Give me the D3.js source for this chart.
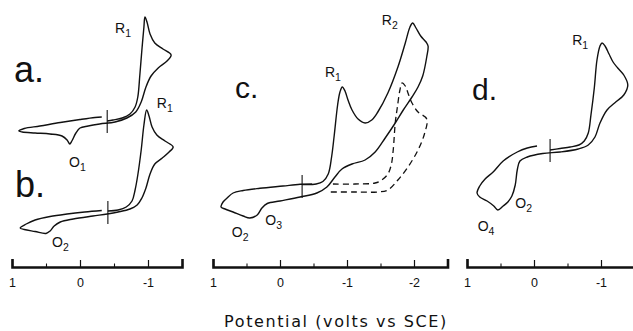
<!DOCTYPE html>
<html><head><meta charset="utf-8">
<script src="https://cdn.jsdelivr.net/npm/d3@7"></script>
<style>
html,body{margin:0;padding:0;background:#fff;}
svg{display:block;}
</style></head>
<body>
<svg id="chart" width="633" height="331"></svg>
<script>
// ---- data: potential E (V vs SCE), current i (arbitrary units) ----
const curveA = [[-0.40,0],[-0.485,0.1],[-0.62,0.3],[-0.735,0.7],[-0.81,1.4],[-0.85,2.4],[-0.88,4.6],[-0.91,7.1],[-0.94,9.4],[-0.955,10.4],[-0.985,9.9],[-1.03,8.7],[-1.10,7.8],[-1.22,7.2],[-1.34,6.6],[-1.28,6.0],[-1.15,5.3],[-1.045,4.5],[-0.97,3.4],[-0.90,1.9],[-0.82,0.9],[-0.69,0.3],[-0.515,-0.1],[-0.29,-0.3],[-0.12,-0.5],[0.0,-0.7],[0.06,-1.2],[0.12,-2.0],[0.15,-2.3],[0.19,-1.9],[0.265,-1.5],[0.44,-1.3],[0.66,-1.2],[0.85,-1.1],[0.90,-1.0],[0.82,-0.75],[0.59,-0.5],[0.29,-0.15],[0.0,0.15],[-0.22,0.35],[-0.32,0.4]];
const curveB = [[-0.41,0.1],[-0.56,0.2],[-0.68,0.5],[-0.765,1.1],[-0.81,2.2],[-0.85,3.7],[-0.90,6.2],[-0.94,8.7],[-0.98,10.2],[-1.015,9.6],[-1.06,8.5],[-1.13,7.7],[-1.25,7.1],[-1.37,6.5],[-1.31,6.0],[-1.21,5.4],[-1.10,4.8],[-1.03,3.8],[-0.97,2.4],[-0.91,1.4],[-0.84,0.7],[-0.735,0.3],[-0.56,0.0],[-0.40,-0.2],[-0.19,-0.4],[0.10,-0.7],[0.29,-1.0],[0.38,-1.4],[0.44,-1.9],[0.50,-2.15],[0.66,-1.95],[0.82,-1.75],[0.88,-1.6],[0.79,-1.2],[0.66,-0.8],[0.44,-0.45],[0.19,-0.2],[-0.07,0.0],[-0.32,0.15]];
const curveC = [[-0.33,0.15],[-0.54,0.2],[-0.64,0.45],[-0.72,1.2],[-0.77,2.9],[-0.81,5.1],[-0.86,8.1],[-0.895,9.4],[-0.93,9.9],[-0.97,9.5],[-1.015,8.6],[-1.075,7.6],[-1.165,6.7],[-1.27,6.3],[-1.37,6.6],[-1.46,7.4],[-1.61,9.3],[-1.76,11.9],[-1.87,14.3],[-1.94,15.9],[-1.98,16.3],[-2.03,15.8],[-2.10,15.0],[-2.18,14.4],[-2.21,14.0],[-2.19,12.9],[-2.13,11.0],[-2.06,9.9],[-1.97,8.9],[-1.84,7.6],[-1.72,6.3],[-1.57,4.8],[-1.42,3.4],[-1.27,2.6],[-1.075,2.2],[-0.925,1.7],[-0.82,0.9],[-0.70,-0.1],[-0.55,-0.7],[-0.30,-1.1],[0.0,-1.5],[0.19,-1.75],[0.27,-2.2],[0.34,-2.9],[0.45,-3.2],[0.55,-3.0],[0.70,-2.6],[0.82,-2.3],[0.88,-2.1],[0.85,-1.6],[0.79,-1.2],[0.70,-0.7],[0.55,-0.45],[0.30,-0.23],[-0.045,0.0],[-0.30,0.17],[-0.48,0.2]];
const curveCdash = [[-0.79,0.2],[-1.12,0.2],[-1.42,0.3],[-1.52,0.6],[-1.61,1.2],[-1.66,2.1],[-1.69,3.6],[-1.72,6.3],[-1.75,7.8],[-1.79,9.6],[-1.82,10.3],[-1.87,10.0],[-1.91,9.3],[-1.97,8.3],[-2.06,7.4],[-2.19,6.7],[-2.16,5.3],[-2.06,3.6],[-1.91,1.9],[-1.76,0.6],[-1.61,-0.4],[-1.46,-0.6],[-1.12,-0.6],[-0.75,-0.6]];
const curveD = [[-0.24,0],[-0.39,0.15],[-0.54,0.3],[-0.67,0.5],[-0.75,0.9],[-0.81,1.7],[-0.85,3.5],[-0.90,6.2],[-0.94,9.0],[-0.985,10.4],[-1.015,10.7],[-1.06,10.4],[-1.12,9.6],[-1.18,8.8],[-1.25,8.2],[-1.34,7.5],[-1.40,6.5],[-1.34,5.5],[-1.22,4.8],[-1.09,4.0],[-0.985,2.7],[-0.91,1.3],[-0.81,0.5],[-0.66,0.1],[-0.39,-0.2],[-0.13,-0.35],[0.10,-0.7],[0.21,-1.1],[0.25,-2.0],[0.28,-3.5],[0.33,-4.6],[0.39,-5.2],[0.46,-5.6],[0.54,-6.0],[0.60,-5.6],[0.70,-5.1],[0.81,-4.7],[0.85,-4.3],[0.81,-3.6],[0.73,-2.9],[0.61,-2.2],[0.46,-1.1],[0.25,-0.2],[0.10,0.2],[-0.045,0.4]];
const startE = {a:-0.40, b:-0.41, c:-0.33, d:-0.24};
const panelLetters = ["a.","b.","c.","d."];
const peakLabels = {
  a:[["R","1",-0.515,8.8],["O","1",0.16,-4.6]],
  b:[["R","1",-1.13,10.4],["O","2",0.41,-3.5]],
  c:[["R","1",-0.67,10.9],["R","2",-1.52,16.1],["O","2",0.72,-5.1],["O","3",0.22,-3.9]],
  d:[["R","1",-0.57,10.5],["O","2",0.28,-5.8],["O","4",0.84,-8.1]]
};
const ticksAB = [1,0.5,0,-0.5,-1,-1.5], labelsAB = [1,0,-1];
const ticksC = [1,0.5,0,-0.5,-1,-1.5,-2,-2.5], labelsC = [1,0,-1,-2];
const ticksD = [1,0.5,0,-0.5,-1,-1.5], labelsD = [1,0,-1];
const xTitle = "Potential (volts vs SCE)";

// ---- layout ----
const svg = d3.select("#chart");
const axisY = 267;
const xAB = d3.scaleLinear().domain([1,-1.5]).range([12,182]);
const xC  = d3.scaleLinear().domain([1,-2.5]).range([213,447.5]);
const xD  = d3.scaleLinear().domain([1,-1.5]).range([467,634.5]);
const yFor = y0 => d3.scaleLinear().domain([0,10]).range([y0, y0-100]);
const panels = {
  a:{x:xAB, y:yFor(121), curves:[curveA]},
  b:{x:xAB, y:yFor(212), curves:[curveB]},
  c:{x:xC,  y:yFor(186), curves:[curveC], dashed:[curveCdash]},
  d:{x:xD,  y:yFor(150), curves:[curveD]}
};
const ink = "#111";
Object.entries(panels).forEach(([k,p])=>{
  const line = d3.line().x(d=>p.x(d[0])).y(d=>p.y(d[1])).curve(d3.curveCatmullRom.alpha(0.5));
  const g = svg.append("g");
  p.curves.forEach(c=>g.append("path").attr("d",line(c)).attr("fill","none").attr("stroke",ink).attr("stroke-width",1.4).attr("stroke-linejoin","round"));
  (p.dashed||[]).forEach(c=>g.append("path").attr("d",line(c)).attr("fill","none").attr("stroke",ink).attr("stroke-width",1.3).attr("stroke-dasharray","6,4"));
  // start-potential marker
  const xs = p.x(startE[k]), yc = p.y(0);
  g.append("line").attr("x1",xs).attr("x2",xs).attr("y1",yc-11).attr("y2",yc+12).attr("stroke",ink).attr("stroke-width",1.1);
  // peak labels
  peakLabels[k].forEach(([n,s,E,i])=>{
    const t = g.append("text").attr("x",p.x(E)).attr("y",p.y(i)).attr("font-family","Liberation Sans, Arial, sans-serif").attr("font-size",14).attr("fill",ink);
    t.append("tspan").text(n);
    t.append("tspan").attr("font-size",10.5).attr("dy",4).text(s);
  });
});
// panel letters
const letterPos = [[14,82,36],[15,197,36],[235,98,30],[472,100,30]];
panelLetters.forEach((L,j)=>{
  svg.append("text").attr("x",letterPos[j][0]).attr("y",letterPos[j][1]).attr("font-family","Liberation Sans, Arial, sans-serif").attr("font-size",letterPos[j][2]).attr("fill",ink).text(L);
});
// axes
function drawAxis(x, ticks, labels){
  const gMinor = svg.append("g").attr("transform",`translate(0,${axisY})`)
    .call(d3.axisBottom(x).tickValues(ticks.filter(t=>!labels.includes(t))).tickSizeInner(-3.5).tickSizeOuter(-8).tickFormat(""));
  gMinor.select(".domain").attr("stroke",ink).attr("stroke-width",2.6);
  gMinor.selectAll(".tick line").attr("stroke",ink).attr("stroke-width",1.1);
  const gMajor = svg.append("g").attr("transform",`translate(0,${axisY})`)
    .call(d3.axisBottom(x).tickValues(labels).tickSizeInner(-7).tickSizeOuter(0).tickPadding(11).tickFormat(d=>String(d)));
  gMajor.select(".domain").remove();
  gMajor.selectAll(".tick line").attr("stroke",ink).attr("stroke-width",1.2);
  gMajor.selectAll(".tick text").attr("font-family","Liberation Sans, Arial, sans-serif").attr("font-size",12.5).attr("fill",ink);
}
drawAxis(xAB, ticksAB, labelsAB);
drawAxis(xC, ticksC, labelsC);
drawAxis(xD, ticksD, labelsD);
// axis title
svg.append("text").attr("x",336).attr("y",327).attr("text-anchor","middle")
  .attr("font-family","DejaVu Sans, sans-serif").attr("font-size",16).attr("letter-spacing",1.6).attr("fill",ink).text(xTitle);
</script>
</body></html>
